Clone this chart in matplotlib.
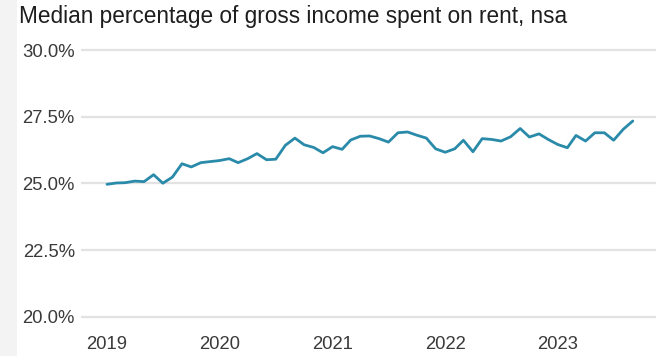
import numpy as np
import matplotlib
matplotlib.use("Agg")
import matplotlib.pyplot as plt
import matplotlib.dates as mdates
from matplotlib.patches import Rectangle

# Median share of gross income spent on rent, monthly, not seasonally adjusted
months = np.arange(np.datetime64("2019-01"), np.datetime64("2023-10"), dtype="datetime64[M]")
rent_share = [
    24.97, 25.02, 25.03, 25.09, 25.07, 25.33, 25.01, 25.24, 25.74, 25.62, 25.78, 25.82,
    25.86, 25.93, 25.78, 25.93, 26.12, 25.89, 25.91, 26.43, 26.70, 26.45, 26.35, 26.15,
    26.38, 26.28, 26.63, 26.77, 26.78, 26.68, 26.55, 26.90, 26.93, 26.81, 26.70, 26.30,
    26.17, 26.30, 26.62, 26.19, 26.68, 26.65, 26.59, 26.75, 27.06, 26.74, 26.86, 26.65,
    26.46, 26.34, 26.80, 26.59, 26.90, 26.90, 26.62, 27.03, 27.34,
]
y_ticks = [20.0, 22.5, 25.0, 27.5, 30.0]
year_ticks = ["2019", "2020", "2021", "2022", "2023"]
title = "Median percentage of gross income spent on rent, nsa"

W, H = 656, 356
fig = plt.figure(figsize=(W / 100, H / 100), dpi=100)
fig.patch.set_facecolor("white")

# pale strip along the left edge
fig.patches.append(Rectangle((0, 0), 17 / W, 1, transform=fig.transFigure,
                             facecolor="#f3f3f3", edgecolor="none", zorder=0))

font = "Liberation Sans"
ylo, yhi = 19.8, 30.2
px_per_pct = 26.68
top_px = 50 - (yhi - 30.0) * px_per_pct
bot_px = 317 + (20.0 - ylo) * px_per_pct
ax = fig.add_axes([81 / W, 1 - bot_px / H, 1 - 81 / W, (bot_px - top_px) / H])
ax.set_facecolor("none")

dates = months.astype("datetime64[D]").astype("O")
ax.plot(dates, rent_share, color="#2a8aa9", lw=2.0, solid_joinstyle="round",
        solid_capstyle="round", zorder=3)

ax.set_ylim(ylo, yhi)
start = np.datetime64("2019-01-01").astype("O")
x0 = mdates.date2num(start)
day_per_px = 365.25 / 112.7
ax.set_xlim(x0 - (107 - 81) * day_per_px, x0 + (656 - 107) * day_per_px)

ax.set_yticks(y_ticks)
ax.set_yticklabels([f"{v:.1f}%" for v in y_ticks])
ax.set_xticks([mdates.date2num(np.datetime64(f"{y}-01-01").astype("O")) for y in year_ticks])
ax.set_xticklabels(year_ticks)

ax.grid(axis="y", color="#e2e2e2", lw=1.6)
ax.grid(axis="x", visible=False)
for s in ax.spines.values():
    s.set_visible(False)
ax.tick_params(axis="both", length=0, labelsize=13.3, labelcolor="#3a3a3a")
ax.tick_params(axis="y", pad=4.5)
ax.tick_params(axis="x", pad=9.5)
for lab in ax.get_xticklabels() + ax.get_yticklabels():
    lab.set_fontfamily(font)

fig.text(19 / W, 1 - 17 / H, title, fontsize=16.3, color="#1e1e1e",
         fontfamily=font, ha="left", va="center")

fig.savefig("out.png", dpi=100)
